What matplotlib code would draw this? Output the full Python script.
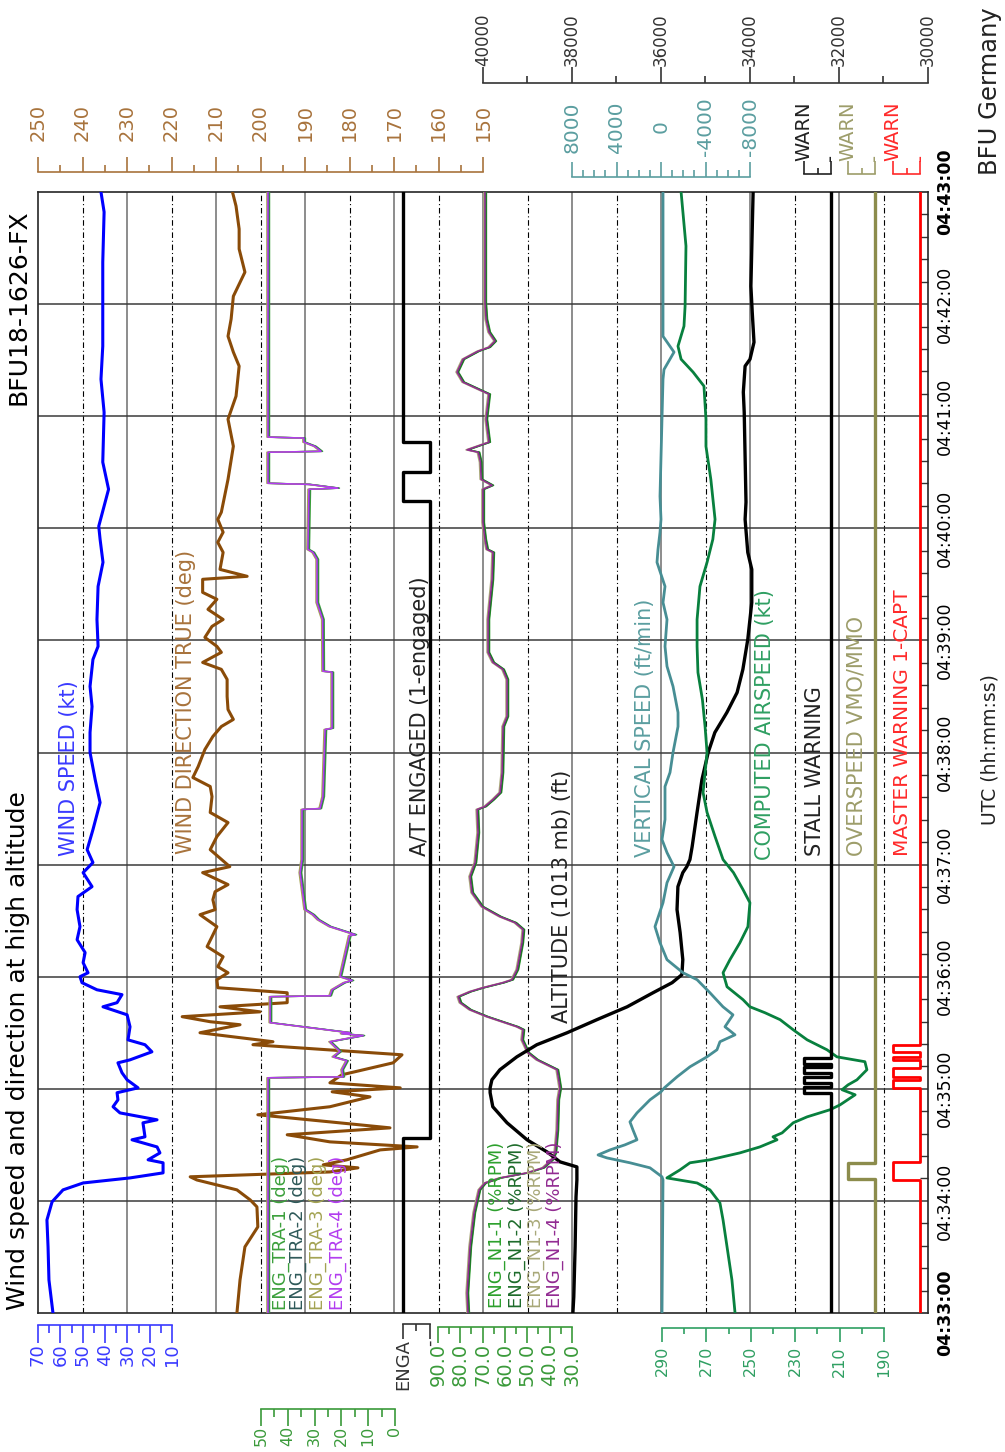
import matplotlib
matplotlib.use("Agg")
import matplotlib.pyplot as plt
from matplotlib.ticker import MultipleLocator
from matplotlib.transforms import ScaledTranslation

# Flight data, time in seconds after 04:33:00 UTC

wind_speed_t = [0, 17.7, 35.4, 49.8, 59.5, 65.9, 69.6, 72.3, 75.0, 80.4, 82.0, 85.7, 88.9, 92.7,
                94.3, 101.8, 103.4, 107.1, 110.4, 114.1, 117.9, 120.5, 124.8, 128.6, 133.9, 135.5,
                139.8, 143.6, 146.2, 153.2, 159.6, 163.9, 166.1, 170.4, 173.0, 176.8, 180.0, 182.1,
                187.5, 192.9, 199.8, 206.8, 215.9, 222.9, 228.2, 235.7, 241.1, 248.0, 258.7, 273.2,
                285.5, 300.0, 310.7, 324.6, 335.4, 349.8, 356.8, 371.2, 388.9, 401.8, 414.1, 421.1,
                440.9, 455.4, 482.1, 499.8, 517.5, 540.0, 562.5, 589.3, 600.0]
wind_speed_kt = [63.3, 65.1, 65.5, 66.0, 63.7, 58.8, 49.8, 28.8, 14.0, 14.0, 20.7, 15.4, 16.7, 27.9,
                 22.1, 23.0, 16.7, 33.3, 36.4, 34.2, 34.6, 25.2, 30.1, 32.4, 34.2, 28.8,
                 19.0, 22.1, 29.7, 28.8, 30.1, 40.9, 34.6, 32.4, 43.6, 50.3, 51.2, 47.6,
                 49.8, 48.9, 52.5, 51.2, 52.5, 52.1, 45.8, 49.8, 45.4, 48.0, 45.4, 42.2,
                 44.4, 46.7, 46.7, 45.8, 46.7, 45.4, 43.1, 43.6, 43.1, 40.9, 42.2, 42.8,
                 38.4, 41.0, 40.4, 41.8, 41.0, 41.0, 41.0, 40.4, 41.8]

wind_dir_t = [0, 17.7, 35.4, 46.1, 56.8, 60.5, 65.9, 71.2, 72.9, 75.5, 77.7, 79.3, 82.0, 87.3,
              88.9, 91.6, 95.4, 99.1, 102.3, 106.1, 110.4, 115.7, 118.4, 120.5, 123.2, 127.5,
              133.9, 138.2, 140.9, 143.6, 145.2, 146.2, 150.0, 154.3, 155.9, 158.6, 161.2, 163.9,
              166.1, 171.4, 174.1, 178.4, 182.1, 185.4, 190.7, 196.1, 201.4, 206.8, 213.2, 215.9,
              221.2, 225.5, 229.3, 235.7, 238.9, 248.0, 255.0, 262.5, 267.9, 276.4, 281.8, 286.6,
              292.5, 301.6, 308.6, 313.9, 317.7, 323.0, 330.0, 339.1, 344.5, 348.2, 353.6, 356.8,
              361.6, 367.5, 371.2, 376.6, 382.0, 385.7, 392.7, 394.3, 398.0, 407.1, 412.5, 417.9,
              424.8, 428.6, 446.2, 463.9, 478.4, 490.7, 506.8, 514.3, 522.8, 532.0, 544.2, 557.1,
              569.5, 580.2, 592.5, 600.0]
wind_dir_deg = [205.3, 204.6, 203.5, 200.6, 200.8, 202.3, 205.3, 214.3, 215.8, 184.4, 178.1, 185.9, 180.6, 173.1,
                164.8, 184.4, 194.0, 170.9, 184.4, 200.6, 184.4, 175.4, 183.9, 168.6, 184.4, 181.7,
                170.2, 168.2, 185.0, 201.7, 197.2, 200.6, 213.6, 204.6, 211.3, 217.6, 200.1, 209.1,
                194.0, 194.0, 209.6, 209.8, 207.3, 209.6, 208.4, 212.0, 210.9, 209.8, 213.6, 210.2,
                210.7, 210.2, 207.3, 213.0, 206.9, 211.3, 209.8, 207.3, 211.3, 210.9, 211.3, 215.2,
                214.0, 212.5, 210.7, 208.8, 206.1, 207.3, 207.5, 207.5, 208.8, 213.0, 208.8, 209.8,
                212.5, 210.9, 208.4, 211.8, 209.8, 213.0, 213.0, 203.0, 209.1, 208.4, 209.6, 208.4,
                209.6, 208.8, 207.3, 206.1, 207.3, 205.5, 204.8, 206.1, 207.3, 206.6, 206.1, 203.5,
                204.8, 204.8, 205.5, 206.3]

at_t = [0, 93.7, 434.5, 450.0, 466.1, 600]
at_engaged = [1, 0, 1, 0, 1, 1]

tra_t = [0, 125.9, 126.4, 130.2, 135.0, 137.1, 140.0, 145.2, 148.5, 149.5,
         150.0, 155.4, 169.3, 169.8, 173.0, 176.8, 178.0, 180.0, 202.0, 202.5,
         206.8, 210.5, 213.2, 215.9, 235.7, 242.7, 269.5, 270.0, 276.4, 312.3,
         313.0, 343.0, 343.5, 371.2, 380.3, 403.4, 407.1, 408.7, 440.9, 441.5,
         443.5, 444.1, 460.7, 461.2, 463.9, 466.1, 468.3, 468.8, 600]
tra_deg = [47.4, 47.4, 19.4, 19.8, 18.0, 23.1, 20.5, 24.3, 11.9, 20.0,
           16.8, 46.6, 46.6, 24.3, 23.5, 19.0, 16.0, 20.5, 17.0, 14.9,
           24.3, 28.7, 30.6, 33.6, 35.4, 34.7, 34.7, 28.0, 26.9, 26.1,
           23.5, 23.5, 26.9, 27.0, 29.1, 29.1, 30.6, 32.5, 32.1, 21.3,
           32.1, 47.4, 47.4, 27.6, 30.0, 34.0, 34.0, 47.4, 47.4]

n1_t = [0, 10.7, 35.4, 53.6, 65.9, 69.6, 72.3, 75.0, 77.7, 82.0, 85.7, 98.0, 114.1, 120.5,
        130.2, 135.5, 139.3, 146.2, 151.6, 153.2, 158.6, 162.3, 166.1, 169.3, 172.0, 174.1,
        176.8, 178.4, 183.8, 198.2, 205.2, 208.9, 212.1, 217.5, 225.0, 233.6, 241.1, 257.1,
        269.5, 271.1, 274.8, 278.6, 289.3, 313.9, 319.3, 339.1, 344.5, 348.2, 353.6, 371.2,
        392.7, 407.1, 408.7, 414.1, 423.2, 440.9, 443.0, 446.2, 455.4, 460.7, 462.0, 466.1,
        478.4, 491.8, 494.5, 498.2, 503.6, 510.5, 514.8, 516.9, 520.2, 525.0, 532.0, 541.1, 600]
n1_pct = [76.6, 77.0, 75.7, 73.9, 71.6, 69.0, 62.2, 50.1, 43.0, 39.0, 37.6, 36.7, 36.3, 35.4,
          36.7, 45.7, 49.7, 52.4, 51.9, 54.6, 68.1, 75.7, 80.1, 81.0, 75.7, 69.9,
          60.9, 56.9, 54.6, 52.4, 51.9, 55.5, 62.2, 70.3, 74.8, 75.7, 73.4, 72.1,
          72.5, 69.0, 65.4, 62.2, 61.3, 60.9, 59.1, 59.1, 61.0, 65.4, 67.6, 67.6,
          65.8, 65.4, 68.1, 69.0, 69.9, 69.9, 65.8, 70.7, 71.0, 72.0, 77.0, 67.2,
          68.5, 67.2, 72.1, 78.8, 81.5, 78.8, 72.1, 67.2, 64.5, 67.2, 68.5, 69.0, 69.0]

alt_t = [0, 8.6, 35.4, 62.1, 71.2, 78.2, 80.9, 86.2, 92.7, 101.8, 110.4, 117.9, 120.5, 124.8,
         130.2, 137.1, 143.6, 150.0, 157.0, 163.9, 171.4, 176.8, 181.1, 189.1, 203.6, 215.9,
         228.2, 235.7, 238.9, 242.7, 249.6, 267.9, 285.5, 300.0, 310.7, 321.4, 332.1, 344.5,
         360.5, 380.3, 398.0, 407.1, 424.8, 434.0, 482.1, 492.9, 506.8, 510.5, 519.6, 535.7,
         549.6, 600]
alt_ft = [37980, 37960, 37930, 37910, 37890, 37890, 38270, 38560, 39010, 39460, 39780, 39840, 39840, 39800,
          39620, 39240, 38790, 38110, 37440, 36760, 36180, 35750, 35530, 35510, 35570, 35640,
          35620, 35510, 35420, 35350, 35300, 35190, 35080, 34940, 34790, 34520, 34290, 34160,
          34050, 33960, 33960, 34050, 34110, 34090, 34130, 34150, 34110, 34000, 33910, 33950,
          33980, 33930]

vs_t = [0, 71.2, 72.9, 77.7, 80.4, 83.0, 84.6, 87.3, 90.0, 92.7, 98.0, 102.3, 107.1, 114.1,
        118.4, 120.5, 126.4, 131.8, 137.1, 140.9, 145.2, 148.9, 153.2, 159.6, 163.9, 171.4,
        178.4, 182.1, 189.1, 198.2, 206.8, 219.6, 230.3, 238.9, 246.4, 253.4, 264.1, 281.8,
        289.3, 300.0, 313.9, 321.4, 335.4, 346.1, 356.8, 371.2, 380.3, 388.9, 401.8, 408.7,
        417.9, 424.8, 437.1, 499.8, 505.0, 514.3, 522.8, 535.7, 600]
vs_fpm = [-90, -180, -90, 990, 2790, 4850, 5660, 4580, 3240, 2160, 2520, 2790, 2160, 990,
          0, -300, -1440, -2610, -4130, -5030, -5300, -6650, -5750, -6470, -5570, -4400,
          -3240, -1980, -540, 90, 540, -180, -540, -1170, -540, -90, -360, -360,
          -810, -1080, -1530, -1530, -1080, -540, -360, -540, -180, -360, 360, 270,
          90, 0, 90, -180, -270, -1170, -180, -180, -180]

cas_t = [0, 17.7, 35.4, 49.8, 58.9, 65.9, 69.6, 72.3, 76.6, 80.4, 82.0, 85.7, 88.9, 92.7,
         94.3, 96.4, 101.8, 105.0, 108.8, 111.4, 116.8, 119.5, 122.1, 124.8, 130.2, 134.5,
         137.1, 140.9, 146.2, 151.6, 157.0, 160.7, 163.9, 167.7, 174.6, 182.1, 189.1, 198.2,
         206.8, 219.6, 226.6, 235.7, 242.7, 255.0, 267.9, 278.6, 300.0, 313.9, 328.4, 342.8,
         356.8, 371.2, 388.9, 401.8, 414.1, 424.8, 446.2, 463.9, 478.4, 496.1, 503.6, 510.5,
         517.5, 528.2, 538.9, 571.1, 600]
cas_kt = [257.1, 258.5, 260.7, 262.5, 263.9, 268.4, 274.2, 287.8, 281.9, 277.4, 268.4, 254.9, 245.9, 238.2,
          240.0, 235.9, 230.9, 224.6, 214.3, 209.8, 203.0, 208.9, 206.2, 202.2, 197.7, 198.6,
          211.2, 215.7, 224.6, 230.9, 236.8, 243.6, 250.4, 253.5, 260.7, 262.5, 259.4, 254.9,
          251.3, 250.4, 253.5, 257.8, 262.5, 266.1, 269.7, 271.5, 269.7, 270.6, 271.8, 273.8,
          274.2, 274.2, 272.9, 269.7, 267.1, 266.1, 268.0, 270.2, 270.2, 271.1, 276.0, 281.4,
          282.8, 280.1, 279.6, 279.2, 281.4]

stall_t = [0, 117.9, 121.1, 123.2, 126.4, 128.6, 131.8, 133.4, 136.6, 600]
stall_warn = [0, 1, 0, 1, 0, 1, 0, 1, 0, 0]

ovsp_t = [0, 71.8, 80.4, 600]
ovsp_warn = [0, 1, 0, 0]

mw_t = [0, 71.2, 80.9, 120.5, 124.8, 126.4, 131.3, 135.5, 137.1, 139.8, 143.6, 600]
mw_warn = [0, 1, 0, 1, 0, 1, 0, 1, 0, 1, 0, 0]

time_labels = ["04:33:00", "04:34:00", "04:35:00", "04:36:00", "04:37:00", "04:38:00",
               "04:39:00", "04:40:00", "04:41:00", "04:42:00", "04:43:00"]

# ---------------------------------------------------------------------------
W, H = 1005, 1452
L, R, T, B = 38, 928, 192, 1313          # plot frame, pixels
PX = 0.72                                 # points per pixel at 100 dpi

fig = plt.figure(figsize=(W / 100, H / 100), dpi=100)
frame = [L / W, 1 - B / H, (R - L) / W, (B - T) / H]

ax = fig.add_axes(frame)
ax.set_xlim(0, 20)
ax.set_ylim(0, 600)
ax.set_xticks([])
for k in range(1, 20):
    if k % 2:
        ax.axvline(k, color="black", lw=0.8, ls=(0, (5, 2.5, 1, 2.5)))
    else:
        ax.axvline(k, color="#6e6e6e", lw=1.1)
for m in range(60, 600, 60):
    ax.axhline(m, color="#3a3a3a", lw=1.1)
for sp in ax.spines.values():
    sp.set_color("#262626")
    sp.set_linewidth(1.2)
ax.yaxis.tick_right()
ax.set_yticks(range(0, 601, 60), time_labels)
ax.yaxis.set_minor_locator(MultipleLocator(12))
ax.tick_params(axis="y", which="major", length=0, pad=6, labelsize=12.5, labelrotation=90)
ax.tick_params(axis="y", which="minor", direction="in", length=6, width=1, color="#333333")
for lbl in ax.get_yticklabels():
    lbl.set_va("center")
ax.get_yticklabels()[0].set_fontweight("bold")
ax.get_yticklabels()[-1].set_fontweight("bold")


def track(px_a, val_a, px_b, val_b):
    """Transparent overlay whose x scale puts val_a at px_a and val_b at px_b."""
    tx = fig.add_axes(frame)
    tx.patch.set_visible(False)
    for sp in tx.spines.values():
        sp.set_visible(False)
    tx.tick_params(which="both", left=False, right=False, top=False, bottom=False,
                   labelleft=False, labelright=False, labeltop=False, labelbottom=False)
    k = (val_b - val_a) / (px_b - px_a)
    tx.set_xlim(val_a + (L - px_a) * k, val_a + (R - px_a) * k)
    tx.set_ylim(0, 600)
    return tx


def ruler(tx, side, offset_px, major, labels, minor, color, length=12, pad=0.0, size=12.5):
    sp = tx.spines[side]
    sp.set_visible(True)
    sp.set_position(("outward", offset_px * PX))
    sp.set_bounds(min(major), max(major))
    sp.set_color(color)
    sp.set_linewidth(1.2)
    tx.xaxis.set_ticks_position(side)
    tx.set_xticks(major, labels)
    tx.set_xticks(minor, minor=True)
    on = side == "top"
    tx.tick_params(axis="x", which="both", direction="out", color=color, width=1.2,
                   top=on, labeltop=on, bottom=not on, labelbottom=not on)
    tx.tick_params(axis="x", which="major", length=length, pad=pad, labelsize=size,
                   labelcolor=color, labelrotation=90)
    tx.tick_params(axis="x", which="minor", length=length * 0.45)


def nudge(dx_px):
    return ScaledTranslation(dx_px / 100, 0, fig.dpi_scale_trans)


# wind speed
t_ws = track(38, 70, 172, 10)
t_ws.plot(wind_speed_kt, wind_speed_t, color="#0000ff", lw=2.2)
ruler(t_ws, "bottom", 12, [70, 60, 50, 40, 30, 20, 10], ["70", "60", "50", "40", "30", "20", "10"],
      [65, 55, 45, 35, 25, 15], "#3a3aff", length=13, size=13)

# wind direction
t_wd = track(38, 250, 483, 150)
t_wd.plot(wind_dir_deg, wind_dir_t, color="#8a4b08", lw=2.2)
ruler(t_wd, "top", 20, list(range(250, 149, -10)), [str(v) for v in range(250, 149, -10)],
      list(range(245, 150, -10)), "#a8733c", length=11, pad=11, size=14)

# autothrottle (steps-pre: each value holds until the next time stamp)
t_at = track(403, 1, 430, 0)
t_at.plot(at_engaged, at_t, color="black", lw=2.4, drawstyle="steps-pre")
ruler(t_at, "bottom", 11, [1, 0], ["ENGA", "-"], [0.5], "#333333", length=11, size=13)

# throttle lever angle
t_tra = track(261, 50, 395, 0)
tra_colors = ["#3ca03c", "#2e5959", "#a3a352", "#b23cf0"]
for c, dx in zip(tra_colors, [1.5, 0.5, -1.0, 0.0]):
    t_tra.plot(tra_deg, tra_t, color=c, lw=1.1, transform=t_tra.transData + nudge(dx))
ruler(t_tra, "bottom", 96, [50, 40, 30, 20, 10, 0], ["50", "40", "30", "20", "10", "0"],
      [45, 35, 25, 15, 5], "#3a9a3a", length=12, size=11.5)

# N1
t_n1 = track(438, 90, 572, 30)
n1_colors = ["#2ca02c", "#1d6b2a", "#a8a878", "#922b92"]
for c, dx in zip(n1_colors, [1.5, 1.0, -1.0, 0.0]):
    t_n1.plot(n1_pct, n1_t, color=c, lw=1.1, transform=t_n1.transData + nudge(dx))
ruler(t_n1, "bottom", 14, [90, 80, 70, 60, 50, 40, 30],
      ["90.0", "80.0", "70.0", "60.0", "50.0", "40.0", "30.0"],
      [85, 75, 65, 55, 45, 35], "#3a9a3a", length=11.5, size=14)

# pressure altitude
t_alt = track(483, 40000, 928, 30000)
t_alt.plot(alt_ft, alt_t, color="black", lw=2.4)
ruler(t_alt, "top", 109, [40000, 38000, 36000, 34000, 32000, 30000],
      ["40000", "38000", "36000", "34000", "32000", "30000"],
      list(range(39000, 30000, -2000)), "#333333", length=11.5, pad=0.5, size=12)

# vertical speed
t_vs = track(572, 8000, 750, -8000)
t_vs.plot(vs_fpm, vs_t, color="#478e94", lw=2.0)
ruler(t_vs, "top", 15, [8000, 4000, 0, -4000, -8000], ["8000", "4000", "0", "-4000", "-8000"],
      [v for v in range(7000, -8000, -1000) if v % 4000], "#5b9ea0", length=11, pad=25, size=14.5)
for tk in t_vs.xaxis.get_major_ticks():
    tk.label2.set_va("center")

# computed airspeed
t_cas = track(662, 290, 884, 190)
t_cas.plot(cas_kt, cas_t, color="#08803e", lw=2.0)
ruler(t_cas, "bottom", 15, [290, 270, 250, 230, 210, 190], ["290", "270", "250", "230", "210", "190"],
      [280, 260, 240, 220, 200], "#2f9f62", length=10, pad=3, size=11.5)

# discrete warnings
warnings = [
    (804, stall_t, stall_warn, "black", "#222222", 2.4),
    (848, ovsp_t, ovsp_warn, "#8c8c4c", "#9d9d6a", 2.4),
    (893, mw_t, mw_warn, "#ff0000", "#ff2a2a", 2.0),
]
for px1, wt, wv, c_line, c_scale, lw in warnings:
    tw = track(px1, 1, px1 + 27, 0)
    tw.plot(wv, wt, color=c_line, lw=lw, drawstyle="steps-pre")
    ruler(tw, "top", 18, [1, 0], ["WARN", "-"], [0.5], c_scale, length=9.5, size=14)


def label(x_px, y_px, s, color, size=15, va="bottom", **kw):
    fig.text(x_px / W, 1 - y_px / H, s, color=color, fontsize=size, rotation=90,
             ha="center", va=va, **kw)


label(18, 1310, "Wind speed and direction at high altitude", "black", 18)
label(18, 405, "BFU18-1626-FX", "black", 18)
label(990, 175, "BFU Germany", "#222222", 17.5)
label(990, 750, "UTC (hh:mm:ss)", "#222222", 13.5, va="center")

label(69, 856, "WIND SPEED (kt)", "#3a3aff")
label(186, 854, "WIND DIRECTION TRUE (deg)", "#a8733c")
label(420, 856, "A/T ENGAGED (1-engaged)", "#222222")
label(562, 1023, "ALTITUDE (1013 mb) (ft)", "#222222")
label(645, 857, "VERTICAL SPEED (ft/min)", "#5b9ea0")
label(765, 860, "COMPUTED AIRSPEED (kt)", "#2f9f62")
label(815, 856, "STALL WARNING", "#222222")
label(857, 856, "OVERSPEED VMO/MMO", "#9d9d6a")
label(902, 856, "MASTER WARNING 1-CAPT", "#ff2a2a", 14.5)

for x_px, name, c in zip([281, 298, 318, 338], ["ENG_TRA-1", "ENG_TRA-2", "ENG_TRA-3", "ENG_TRA-4"],
                         ["#3ca03c", "#2e5959", "#a3a352", "#b23cf0"]):
    label(x_px, 1310, name + " (deg)", c, 13)
for x_px, name, c in zip([497, 517, 536, 555], ["ENG_N1-1", "ENG_N1-2", "ENG_N1-3", "ENG_N1-4"],
                         ["#2ca02c", "#1d6b2a", "#a8a878", "#922b92"]):
    label(x_px, 1308, name + " (%RPM)", c, 13)

fig.savefig("out.png", dpi=100)
